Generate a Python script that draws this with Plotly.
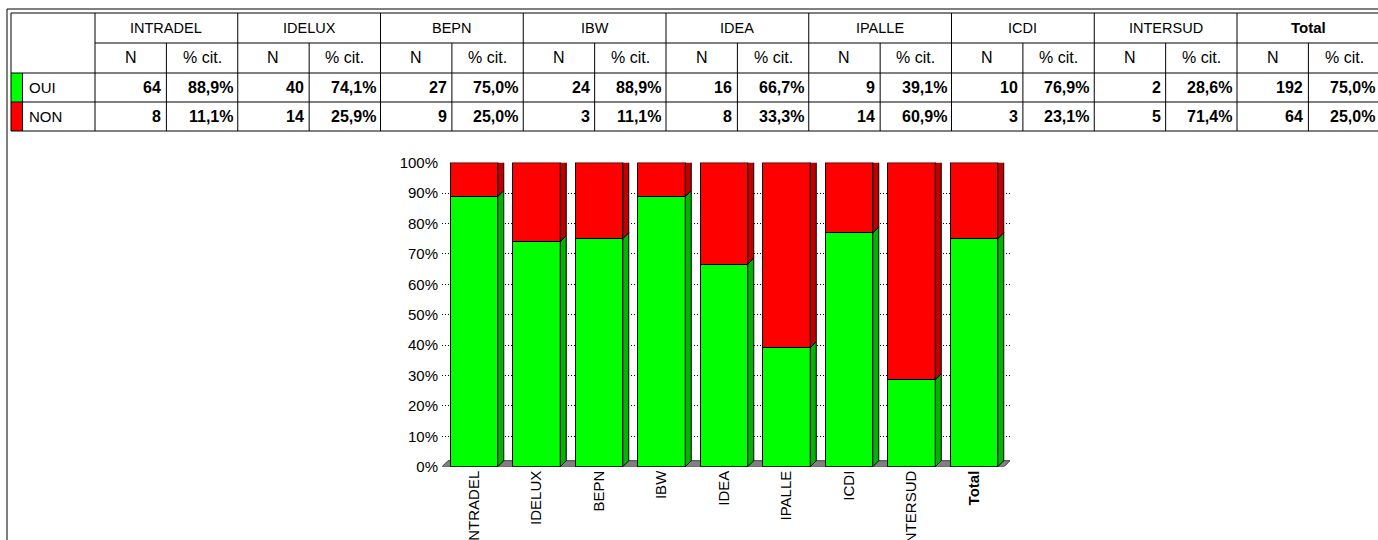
import plotly.graph_objects as go

# ---------------- data ----------------
categories = ["INTRADEL", "IDELUX", "BEPN", "IBW", "IDEA", "IPALLE", "ICDI", "INTERSUD", "Total"]
oui_n = [64, 40, 27, 24, 16, 9, 10, 2, 192]
non_n = [8, 14, 9, 3, 8, 14, 3, 5, 64]
row_labels = ["OUI", "NON"]
sub_headers = ["N", "% cit."]
y_ticks = [0, 0.1, 0.2, 0.3, 0.4, 0.5, 0.6, 0.7, 0.8, 0.9, 1.0]

oui_pct = [o / (o + n) for o, n in zip(oui_n, non_n)]
non_pct = [n / (o + n) for o, n in zip(oui_n, non_n)]


def fmt_pct(p):
    return f"{p * 100:.1f}%".replace(".", ",")


# ---------------- geometry / style ----------------
W, H = 1378, 540
FONT = "Liberation Sans, Arial, sans-serif"
GREEN, GREEN_SIDE = "#00FF00", "#00B400"
RED, RED_SIDE, RED_TOP = "#FF0000", "#C00000", "#B00000"


def X(px):
    return px / W


def Y(py):
    return 1 - py / H


shapes = []
annotations = []


def hline(x0, x1, y, w=1, color="black"):
    shapes.append(dict(type="line", xref="paper", yref="paper",
                       x0=X(x0), x1=X(x1), y0=Y(y), y1=Y(y),
                       line=dict(color=color, width=w), layer="above"))


def vline(x, y0, y1, w=1, color="black"):
    shapes.append(dict(type="line", xref="paper", yref="paper",
                       x0=X(x), x1=X(x), y0=Y(y0), y1=Y(y1),
                       line=dict(color=color, width=w), layer="above"))


def text(px, py, s, anchor="center", size=15, bold=False):
    annotations.append(dict(xref="paper", yref="paper", x=X(px), y=Y(py),
                            text=f"<b>{s}</b>" if bold else s, showarrow=False,
                            xanchor=anchor, yanchor="middle", borderpad=0,
                            font=dict(family=FONT, size=size, color="black")))


# ---------------- table ----------------
T_LEFT, LABEL_R = 11, 95
GROUP_W, N_W = 142.75, 71.4
rows_y = [13, 43, 73, 102, 131]
T_RIGHT = W

# outer frame
hline(7, W, 9)
vline(7, 9, H)
# table borders
hline(T_LEFT, T_RIGHT, rows_y[0])
hline(LABEL_R, T_RIGHT, rows_y[1])
hline(T_LEFT, T_RIGHT, rows_y[2])
hline(T_LEFT, T_RIGHT, rows_y[3])
hline(T_LEFT, T_RIGHT, rows_y[4])
vline(T_LEFT, rows_y[0], rows_y[4])
vline(LABEL_R, rows_y[0], rows_y[4])
vline(22.5, rows_y[2], rows_y[4])

# colour swatches
for k, col in enumerate([GREEN, RED]):
    shapes.append(dict(type="rect", xref="paper", yref="paper",
                       x0=X(T_LEFT), x1=X(22.5), y0=Y(rows_y[2 + k]), y1=Y(rows_y[3 + k]),
                       fillcolor=col, line=dict(width=0), layer="below"))
    text(28, (rows_y[2 + k] + rows_y[3 + k]) / 2, row_labels[k], anchor="left", size=15)

for g, cat in enumerate(categories):
    gl = LABEL_R + GROUP_W * g
    gs = gl + N_W
    gr = gl + GROUP_W
    if g > 0:
        vline(gl, rows_y[0], rows_y[4])
    vline(gs, rows_y[1], rows_y[4])
    text(gl + GROUP_W / 2, (rows_y[0] + rows_y[1]) / 2, cat,
         size=15 if cat == "Total" else 14.5, bold=(cat == "Total"))
    text(gl + N_W / 2, (rows_y[1] + rows_y[2]) / 2, sub_headers[0], size=16)
    text(gs + (gr - gs) / 2, (rows_y[1] + rows_y[2]) / 2, sub_headers[1], size=16)
    for k, (nv, pv) in enumerate([(oui_n[g], oui_pct[g]), (non_n[g], non_pct[g])]):
        yc = (rows_y[2 + k] + rows_y[3 + k]) / 2
        text(gs - 4, yc, str(nv), anchor="right", size=16, bold=True)
        text(gr - 4, yc, fmt_pct(pv), anchor="right", size=16, bold=True)

# ---------------- chart ----------------
PX_L, PX_R = 442, 1010
PY_TOP, PY_BOT = 162.7, 466.7
X_RANGE = [-0.512, 8.576]
px_per_x = (PX_R - PX_L) / (X_RANGE[1] - X_RANGE[0])
px_per_y = PY_BOT - PY_TOP
DEPTH_PX = 6
dx = DEPTH_PX / px_per_x
dy = DEPTH_PX / px_per_y
BAR_W = 0.76
xs = list(range(len(categories)))


def poly(pts, fill, layer="above", lc="black"):
    d = "M " + " L ".join(f"{a},{b}" for a, b in pts) + " Z"
    shapes.append(dict(type="path", xref="x", yref="y", path=d, fillcolor=fill,
                       line=dict(color=lc, width=1), layer=layer))


# floor
x_fl, x_fr = X_RANGE[0], X_RANGE[1] - dx
poly([(x_fl, 0), (x_fl + dx, dy), (x_fr + dx, dy), (x_fr, 0)], "#808080", layer="between", lc="#404040")

for i in xs:
    l = i - BAR_W / 2
    r = i + BAR_W / 2
    o = oui_pct[i]
    poly([(r, 0), (r + dx, dy), (r + dx, o + dy), (r, o)], GREEN_SIDE)
    poly([(r, o), (r + dx, o + dy), (r + dx, 1 + dy), (r, 1)], RED_SIDE)
    poly([(l, 1), (l + dx, 1 + dy), (r + dx, 1 + dy), (r, 1)], RED_TOP)

fig = go.Figure()
fig.add_trace(go.Bar(x=xs, y=oui_pct, width=BAR_W, name="OUI",
                     marker=dict(color=GREEN, line=dict(color="black", width=1))))
fig.add_trace(go.Bar(x=xs, y=non_pct, width=BAR_W, name="NON",
                     marker=dict(color=RED, line=dict(color="black", width=1))))

ticktext = [f"<b>{c}</b>" if c == "Total" else c for c in categories]

fig.update_layout(
    width=W, height=H, autosize=False,
    margin=dict(l=0, r=0, t=0, b=0, pad=0, autoexpand=False),
    paper_bgcolor="white", plot_bgcolor="white",
    barmode="stack", showlegend=False,
    font=dict(family=FONT, color="black"),
    xaxis=dict(domain=[X(PX_L), X(PX_R)], range=X_RANGE, tickvals=xs, ticktext=ticktext,
               tickangle=-90, tickfont=dict(size=15, family=FONT, color="black"),
               showgrid=False, zeroline=False, showline=False, ticks="", automargin=False),
    yaxis=dict(domain=[Y(PY_BOT), Y(PY_TOP)], range=[0, 1], tickvals=y_ticks,
               tickformat=".0%", tickfont=dict(size=15, family=FONT, color="black"),
               showgrid=True, gridcolor="black", griddash="1px,2px", gridwidth=1,
               zeroline=False, showline=False, ticks="", ticklabelstandoff=3, automargin=False),
    shapes=shapes, annotations=annotations,
)

fig.write_html(
    "out.html",
    config={"displayModeBar": False},
    post_script="document.body.style.margin='0';document.body.style.overflow='hidden';",
)
